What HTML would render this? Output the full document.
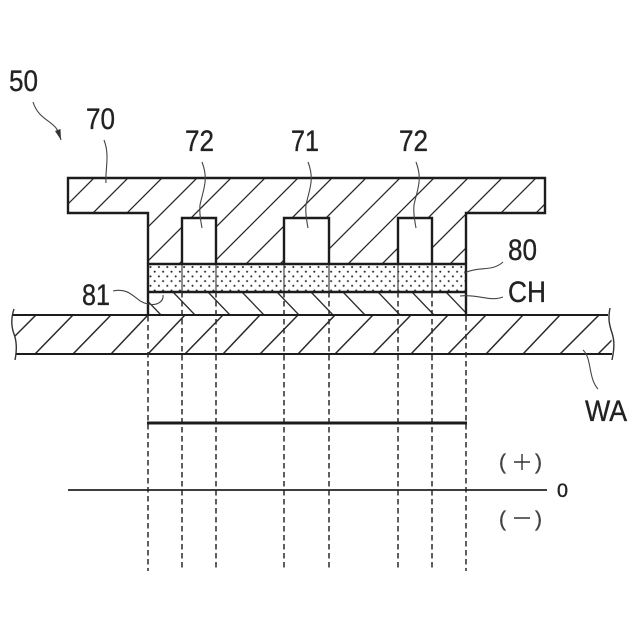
<!DOCTYPE html>
<html>
<head>
<meta charset="utf-8">
<style>
html,body{margin:0;padding:0;background:#fff;width:640px;height:640px;overflow:hidden}
svg{display:block;overflow:hidden}
text{font-family:"Liberation Sans",sans-serif;fill:#222;stroke:#222;stroke-width:.35}
.h{stroke:#2a2a2a;stroke-width:1.3;fill:none}
.o{stroke:#1c1c1c;stroke-width:2.4;fill:none}
.l{stroke:#444;stroke-width:1.1;fill:none}
.d{stroke:#2a2a2a;stroke-width:1.5;stroke-dasharray:5.5 3.5;fill:none}
.n{font-size:30px}
</style>
</head>
<body>
<svg width="640" height="640" viewBox="0 0 640 640" xmlns="http://www.w3.org/2000/svg">
<defs>
<pattern id="dots" width="8.4" height="9.4" patternUnits="userSpaceOnUse" x="148" y="264">
<circle cx="2.5" cy="3" r="1.05" fill="#2a2a2a"/>
<circle cx="6.7" cy="7.7" r="1.05" fill="#2a2a2a"/>
</pattern>
<clipPath id="body"><path clip-rule="evenodd" d="M68 178H545V213H466V264H432V218H398V264H329V218H284V264H216V218H182V264H148V213H68Z"/></clipPath>
<clipPath id="wafer"><path d="M14 315H609L613 354H16Z"/></clipPath>
<clipPath id="ch"><rect x="148" y="292" width="318" height="23"/></clipPath>
</defs>

<!-- body hatch: x+y = const, y from 270 to 170 -->
<g class="h" clip-path="url(#body)">
<path d="M2 270L102 170M36 270L136 170M70 270L170 170M105 270L205 170M139 270L239 170M173 270L273 170M206 270L306 170M240 270L340 170M274 270L374 170M308 270L408 170M342 270L442 170M376 270L476 170M410 270L510 170M444 270L544 170M479 270L579 170"/>
</g>

<!-- wafer hatch -->
<g class="h" clip-path="url(#wafer)" style="stroke-width:1.5">
<path d="M-3 354L36 315M35 354L73 315M73 354L111 315M111 354L148 315M148 354L185 315M185 354L223 315M223 354L260 315M260 354L298 315M298 354L335 315M335 354L373 315M373 354L411 315M411 354L448 315M448 354L486 315M486 354L523 315M523 354L560 315M560 354L599 315M598 354L637 315"/>
</g>

<!-- channel hatch -->
<g class="h" clip-path="url(#ch)">
<path d="M139 292L161 315M173 292L195 315M208 292L230 315M242 292L264 315M277 292L299 315M311 292L333 315M343 292L365 315M378 292L400 315M412 292L434 315M446 292L468 315"/>
</g>

<!-- dotted layer -->
<rect x="148" y="264" width="318" height="28" fill="url(#dots)"/>
<path d="M182 264V292M216 264V292M284 264V292M329 264V292M398 264V292M432 264V292" stroke="#333" stroke-width="1.1" fill="none"/>

<!-- outlines -->
<path class="o" d="M148 315V213H68V178H545V213H466V315"/>
<path class="o" d="M182 264V218H216V264M284 264V218H329V264M398 264V218H432V264"/>
<path class="o" d="M148 264H466M148 292H466"/>
<path class="o" d="M13 315H608M16 354H612" style="stroke-width:2.1"/>
<path d="M14 309C11 318 11 326 14 334C17 342 17 350 15 360" stroke="#333" stroke-width="1.4" fill="none"/>
<path d="M610 308C608 318 609 324 612 333C615 342 614 350 612 360" stroke="#333" stroke-width="1.4" fill="none"/>

<!-- dashed projections -->
<path class="d" d="M148 316V571M466 316V571M182 292V571M216 292V571M284 292V571M329 292V571M398 292V571M432 292V571"/>

<!-- graph -->
<path d="M147 423H467" stroke="#1c1c1c" stroke-width="3" fill="none"/>
<path d="M68 490H547" stroke="#222" stroke-width="1.8" fill="none"/>

<!-- leaders -->
<path class="l" d="M33 102C38 118 50 120 56 128C59 132 60 136 61 140"/>
<path d="M61 140L55 131L60.500 129Z" fill="#333"/>
<path class="l" d="M104 140C110 155 105 170 106 183"/>
<path class="l" d="M202 162C209 180 203 190 200 205C199 214 201 222 202 228"/>
<path class="l" d="M308 162C315 180 309 190 306 205C305 214 307 222 308 228"/>
<path class="l" d="M416 162C423 180 417 190 414 205C413 214 415 222 416 228"/>
<path class="l" d="M503 262C492 272 480 266 464 273"/>
<path class="l" d="M503 297C490 302 478 294 460 296"/>
<path class="l" d="M113 291C132 287 135 302 148 304C156 306 164 302 163 295"/>
<path class="l" d="M583 350C592 358 588 378 598 389"/>

<!-- labels -->
<text class="n" x="9" y="91" textLength="29" lengthAdjust="spacingAndGlyphs">50</text>
<text class="n" x="86" y="129" textLength="29" lengthAdjust="spacingAndGlyphs">70</text>
<text class="n" x="185" y="151" textLength="29" lengthAdjust="spacingAndGlyphs">72</text>
<text class="n" x="291" y="151" textLength="28" lengthAdjust="spacingAndGlyphs">71</text>
<text class="n" x="399" y="151" textLength="29" lengthAdjust="spacingAndGlyphs">72</text>
<text class="n" x="508" y="260" textLength="29" lengthAdjust="spacingAndGlyphs">80</text>
<text class="n" x="508" y="302" textLength="38" lengthAdjust="spacingAndGlyphs">CH</text>
<text class="n" x="82" y="305" textLength="28" lengthAdjust="spacingAndGlyphs">81</text>
<text class="n" x="585" y="421" textLength="42" lengthAdjust="spacingAndGlyphs">WA</text>
<text x="557" y="497" style="font-size:19px" textLength="11" lengthAdjust="spacingAndGlyphs">0</text>

<g style="font-size:21px">
<text x="499" y="469" style="fill:#444;stroke:#444">(</text>
<text x="535" y="469" style="fill:#444;stroke:#444">)</text>
<text x="499" y="526" style="fill:#444;stroke:#444">(</text>
<text x="535" y="526" style="fill:#444;stroke:#444">)</text>
</g>
<path d="M514 462H530M522 454V470M514 518H530" stroke="#333" stroke-width="1.4" fill="none"/>
</svg>
</body>
</html>
